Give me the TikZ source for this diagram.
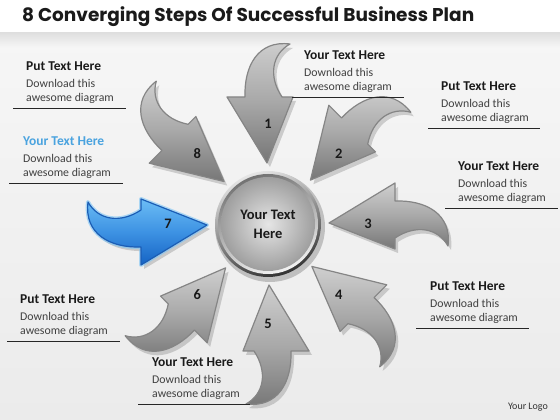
\documentclass[tikz,border=0pt]{standalone}
\usepackage{fontspec}
\setmainfont{Carlito}
\newfontfamily\titlefont{Poppins}
\usepackage{graphicx}
\usetikzlibrary{shadows}
\definecolor{bgtop}{HTML}{F7F7F7}
\definecolor{bgbot}{HTML}{EBEBEB}
\definecolor{titleblack}{HTML}{1A1A1A}
\definecolor{bodygray}{HTML}{404040}
\definecolor{bluetitle}{HTML}{4AA3DF}
\definecolor{arlight}{HTML}{CFCFCF}
\definecolor{armid}{HTML}{A8A8A8}
\definecolor{ardark}{HTML}{767676}
\definecolor{aredge}{HTML}{858585}
\definecolor{bllight}{HTML}{6CBDF5}
\definecolor{blmid}{HTML}{3D92E3}
\definecolor{bldark}{HTML}{1563C4}
\definecolor{bledge}{HTML}{1B5DB5}
\definecolor{blglow}{HTML}{7CC4F5}
\newcommand{\arrowshape}{(-1,61) -- (-41,127) -- (-23,127) .. controls (-24,158) and (-10,184) .. (22,180) .. controls (4,170) and (0,148) .. (14,127) -- (25,127) -- cycle}
\newcommand{\tblock}[7]{%
  \node[ttl, text=#7] (#1t) at (#2,416-#3) {#6};
  \node[bod] (#1d) at (#2,399-#3) {Download this};
  \node[bod] (#1w) at (#2,385-#3) {awesome diagram};
  \coordinate (#1a) at (#4,379-#3);
  \coordinate (#1b) at (#5,379-#3);
  \draw[uline] (#1a) -- (#1b);
}
\begin{document}
\begin{tikzpicture}[x=1pt,y=1pt,
  blk/.style={anchor=base west, inner sep=0pt},
  ttl/.style={blk, font=\fontsize{13.5}{14}\selectfont\bfseries},
  bod/.style={blk, font=\fontsize{11.8}{13}\selectfont, text=bodygray},
  uline/.style={line width=0.9pt, draw=black!85},
  num/.style={font=\fontsize{14.5}{14.5}\selectfont\bfseries, text=black!90, inner sep=0pt},
  grayarrow/.style={top color=arlight, bottom color=ardark, middle color=armid, draw=aredge, line width=1.2pt, line join=round},
  bluearrow/.style={top color=bllight, bottom color=bldark, middle color=blmid, draw=bledge, line width=1.2pt, line join=round},
  shadowfill/.style={fill=black, opacity=0.16},
]
\useasboundingbox (0,0) rectangle (560,420);
\shade[top color=bgtop, bottom color=bgbot] (0,0) rectangle (560,420);
\shade[top color=black!13, bottom color=bgtop] (0,372) rectangle (560,388);
\fill[white] (0,388) rectangle (560,420);
\node[anchor=west, inner sep=0pt, text=titleblack] (title) at (22,403)
  {\resizebox{452pt}{!}{\titlefont\bfseries\fontsize{18}{18}\selectfont 8 Converging Steps Of Successful Business Plan}};

\coordinate (c) at (268,196);

% gray arrows
\foreach \k in {1,2,3,4,5,6,8} {
  \begin{scope}[shift={(271,192)}, rotate={-45*(\k-1)}]
    \fill[shadowfill] \arrowshape;
  \end{scope}
  \begin{scope}[shift={(268,196)}, rotate={-45*(\k-1)}]
    \draw[grayarrow] \arrowshape;
  \end{scope}
}
% blue arrow (7)
\begin{scope}[shift={(271,192)}, rotate=90]
  \fill[shadowfill] \arrowshape;
\end{scope}
\begin{scope}[shift={(268,196)}, rotate=90]
  \draw[blglow, line width=4pt, opacity=0.6, line join=round] \arrowshape;
  \draw[bluearrow] \arrowshape;
\end{scope}

% centre circle
\fill[black, opacity=0.2] (270,193) circle (55);
\shade[top color=black!10, bottom color=black!80, shading angle=20] (c) circle (53);
\shade[top color=black!55, bottom color=black!5, shading angle=20] (c) circle (50);
\shade[inner color=black!10, outer color=black!38] (c) circle (47);
\node[font=\fontsize{14.5}{19}\selectfont\bfseries, align=center, text=black!90] (ctext) at (268,196) {Your Text\\Here};

% numbers
\foreach \k in {1,...,8} {
  \node[num] (n\k) at ([shift={({90-45*(\k-1)}:100)}]c) {\k};
}

% text blocks
\tblock{b1}{304}{56}{292}{404}{Your Text Here}{titleblack}
\tblock{b2}{441}{87}{428}{540}{Put Text Here}{titleblack}
\tblock{b3}{458}{167}{445}{558}{Your Text Here}{titleblack}
\tblock{b4}{430}{287}{416}{529}{Put Text Here}{titleblack}
\tblock{b5}{152}{363}{138}{250}{Your Text Here}{titleblack}
\tblock{b6}{20}{300}{7}{120}{Put Text Here}{titleblack}
\tblock{b7}{23}{142}{9}{123}{Your Text Here}{bluetitle}
\tblock{b8}{26}{67}{13}{126}{Put Text Here}{titleblack}

\node[font=\fontsize{10}{10}\selectfont, text=black!80] (logo) at (528,13) {Your Logo};
\end{tikzpicture}
\end{document}
